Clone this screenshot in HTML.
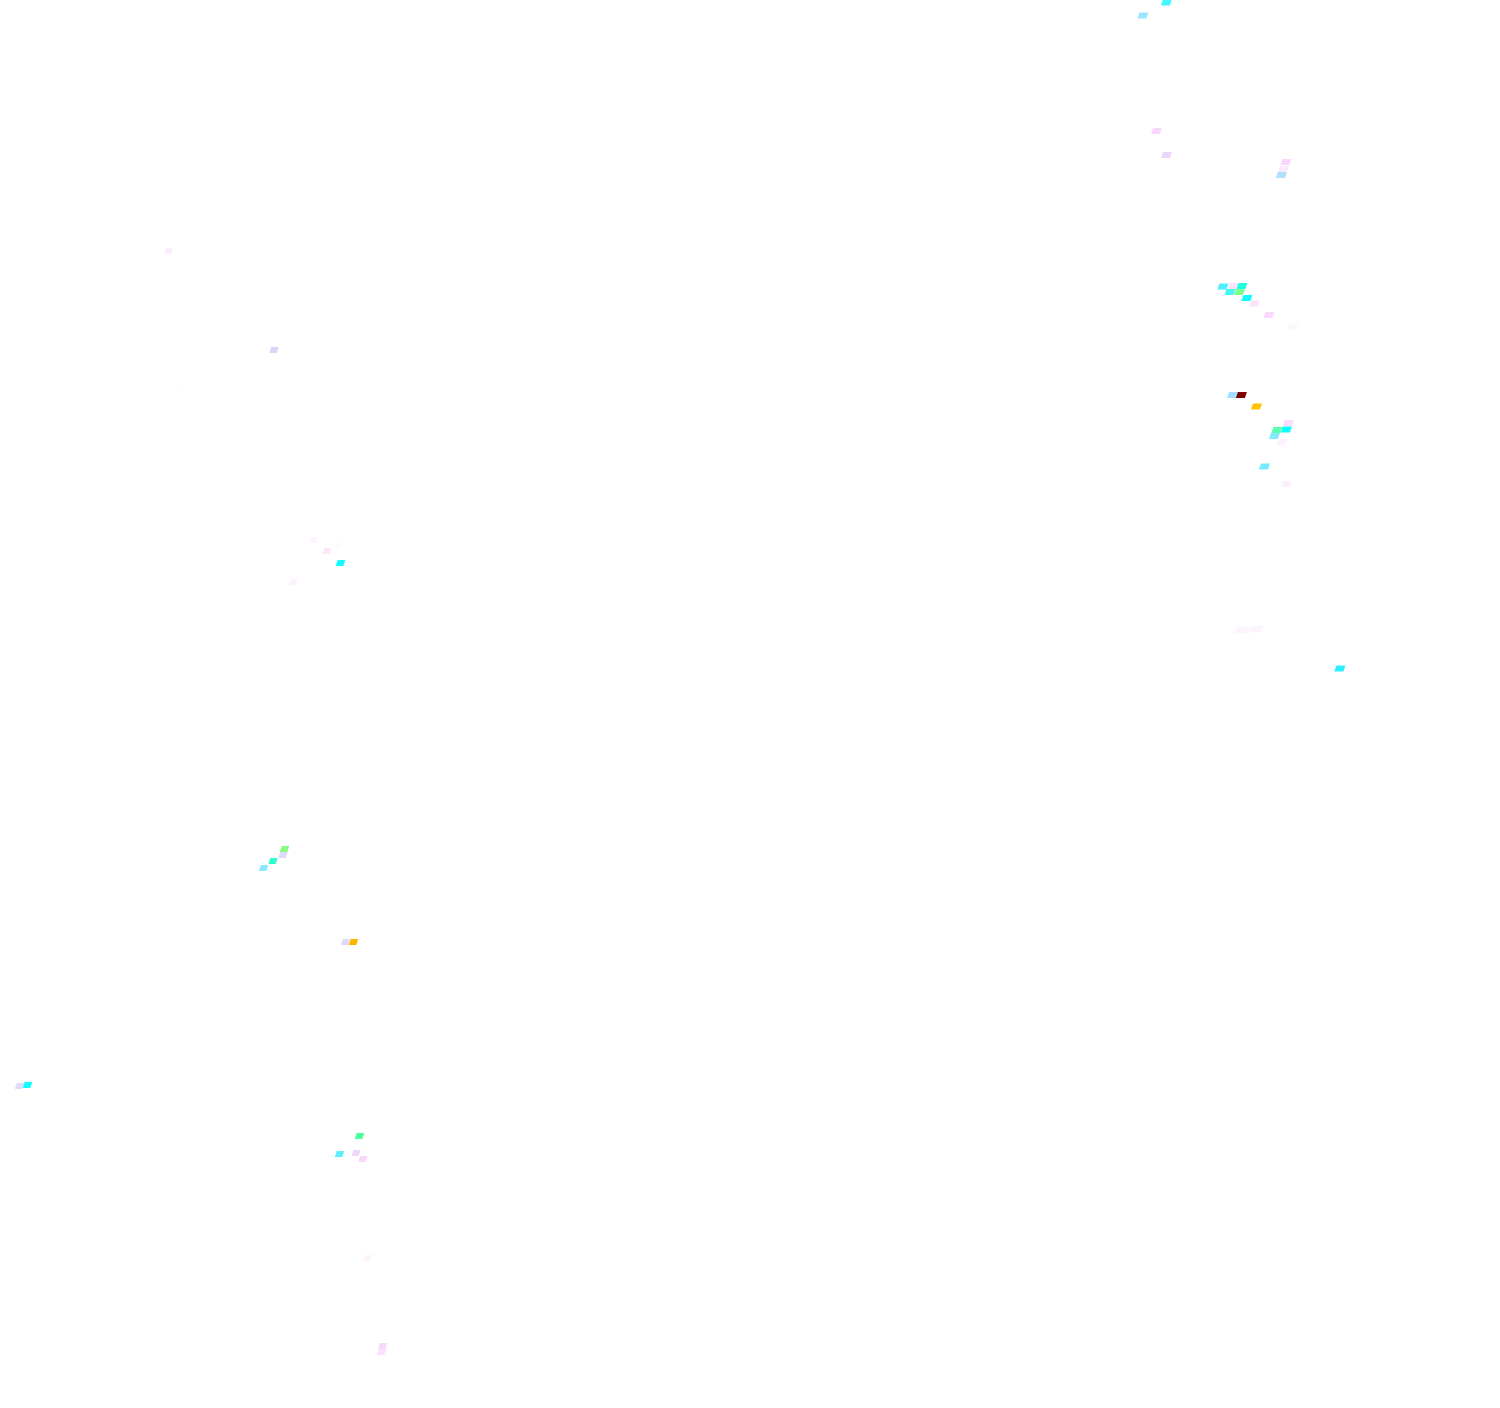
<!DOCTYPE html>
<html>
<head>
<meta charset="utf-8">
<title>Diagram</title>
<style>
html,body{margin:0;padding:0;background:#fff;width:1500px;height:1408px;overflow:hidden}
svg{display:block}
</style>
</head>
<body>
<svg xmlns="http://www.w3.org/2000/svg" width="1500" height="1408" viewBox="0 0 1500 1408" shape-rendering="crispEdges">
<defs>
<path id="a" d="M-3.5-3H5.5L3.5 3H-5.5Z"/>
<path id="b" d="M-2.8-3H4.8L2.8 3H-4.8Z"/>
</defs>
<rect width="1500" height="1408" fill="#ffffff"/>
<!-- top right -->
<use href="#a" x="1166.5" y="2.5" fill="#44f5ff"/>
<use href="#a" x="1143" y="15.5" fill="#9ce4ff"/>
<use href="#a" x="1156.5" y="131" fill="#f9d9fb"/>
<use href="#a" x="1166.5" y="155" fill="#ecd4fa"/>
<use href="#a" x="1286" y="162" fill="#f9d6fb"/>
<use href="#a" x="1283.5" y="169" fill="#fbe6fb"/>
<use href="#a" x="1281.5" y="175" fill="#b0dffd"/>
<!-- cluster 1 -->
<use href="#a" x="1223" y="286.5" fill="#4df0ff"/>
<use href="#a" x="1233" y="286" fill="#fbe3fb"/>
<use href="#a" x="1242" y="286" fill="#22ffe4"/>
<use href="#a" x="1230" y="292" fill="#48f5f5"/>
<use href="#a" x="1239.5" y="292" fill="#80ff8c"/>
<use href="#a" x="1247" y="298" fill="#0bffff"/>
<use href="#a" x="1254.5" y="303.5" fill="#fbe3fb"/>
<use href="#a" x="1269" y="315" fill="#f9d9fb"/>
<use href="#a" x="1293" y="326.5" fill="#fef8fe"/>
<!-- cluster 2 -->
<use href="#a" x="1232.5" y="395" fill="#a0e2ff"/>
<use href="#a" x="1241.5" y="395" fill="#7d0000"/>
<use href="#a" x="1256.5" y="406.5" fill="#ffc300"/>
<use href="#a" x="1288.5" y="423" fill="#fbdcfb"/>
<use href="#a" x="1277" y="430" fill="#5cffae"/>
<use href="#a" x="1286.5" y="429.5" fill="#0cffff"/>
<use href="#a" x="1274.5" y="436" fill="#88e8ff"/>
<use href="#a" x="1282" y="442" fill="#fdf2fd"/>
<use href="#a" x="1264.5" y="466.5" fill="#76e8ff"/>
<use href="#a" x="1286.5" y="484" fill="#fdf0fd"/>
<!-- cluster 3 -->
<use href="#a" x="1240" y="630" fill="#fdf5fd"/>
<use href="#a" x="1249" y="630" fill="#fef8fe"/>
<use href="#a" x="1258" y="629" fill="#fdf2fd"/>
<use href="#a" x="1340" y="668.5" fill="#2cf0ff"/>
<!-- left upper -->
<use href="#b" x="168.5" y="251" fill="#fdeefd"/>
<use href="#b" x="274" y="350" fill="#dcd4fb"/>
<use href="#b" x="179" y="389" fill="#fefcfe"/>
<use href="#b" x="313.5" y="540" fill="#fdf5fd"/>
<use href="#b" x="327" y="551" fill="#fbe9fb"/>
<use href="#b" x="336.5" y="545" fill="#fefafe"/>
<use href="#b" x="340.5" y="563" fill="#0cffff"/>
<use href="#b" x="293.5" y="582" fill="#fdf2fd"/>
<!-- left lower -->
<use href="#b" x="284.5" y="849" fill="#84ff84"/>
<use href="#b" x="283" y="855" fill="#e0dafb"/>
<use href="#b" x="273" y="861" fill="#33ffcc"/>
<use href="#b" x="263.5" y="868" fill="#88e8ff"/>
<use href="#b" x="345.5" y="942" fill="#e0dafb"/>
<use href="#b" x="353.5" y="942" fill="#ffb400"/>
<use href="#b" x="19.5" y="1086" fill="#dcdcfb"/>
<use href="#b" x="27.5" y="1085" fill="#0cffff"/>
<use href="#b" x="359.5" y="1136" fill="#4effa0"/>
<use href="#b" x="339.5" y="1154" fill="#60eeff"/>
<use href="#b" x="356" y="1153" fill="#ecd8fb"/>
<use href="#b" x="363" y="1159" fill="#f9d9fb"/>
<use href="#b" x="367.5" y="1258" fill="#fdf2fd"/>
<use href="#b" x="382.5" y="1346" fill="#f9d9fb"/>
<use href="#b" x="381.5" y="1352" fill="#fbe3fb"/>
</svg>
</body>
</html>
